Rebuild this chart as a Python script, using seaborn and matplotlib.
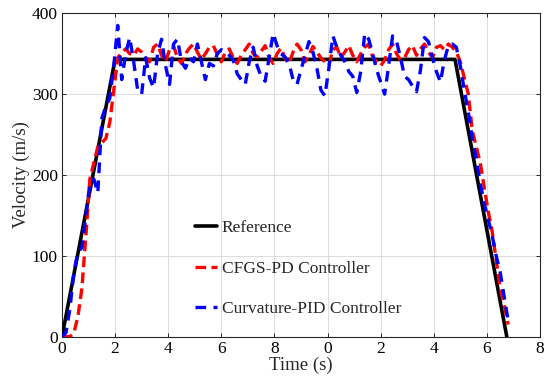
import numpy as np
import pandas as pd
import matplotlib
matplotlib.use("Agg")
import matplotlib.pyplot as plt
import seaborn as sns

# reference trajectory (corner points)
ref_t = [0.0, 2.0, 14.8, 16.75]
ref_v = [0.0, 343.0, 343.0, 0.0]

# sampled controller responses, step 0.15 on the time axis
sim_t = np.round(np.arange(113) * 0.15, 2)

cfgs_v = [0, 0, 0, 5, 25, 60, 125, 195, 215, 235, 240, 245, 265, 305, 345,
          352, 356, 350, 348, 356, 352, 345, 340, 358, 362, 348, 340, 355, 360,
          345, 338, 350, 357, 362, 352, 343, 350, 358, 360, 349, 340, 352, 356,
          345, 338, 348, 355, 362, 350, 346, 353, 360, 345, 338, 350, 357, 344,
          338, 352, 362, 355, 340, 348, 359, 352, 345, 340, 336, 355, 358, 345,
          352, 360, 348, 340, 350, 358, 362, 346, 340, 335, 342, 355, 362, 350,
          342, 345, 355, 360, 348, 356, 362, 352, 345, 358, 360, 355, 362, 358,
          352, 340, 320, 300, 255, 235, 215, 185, 155, 130, 95, 60, 40, 15]

pid_v = [0, 5, 35, 80, 105, 110, 150, 190, 195, 178, 270, 285, 295, 335, 385,
         318, 350, 370, 340, 305, 300, 345, 320, 308, 350, 368, 335, 312, 362,
         368, 340, 332, 345, 340, 362, 340, 318, 338, 335, 350, 355, 352, 348,
         342, 325, 318, 312, 340, 358, 335, 322, 316, 345, 375, 360, 350, 346,
         338, 318, 312, 330, 348, 365, 352, 332, 305, 298, 332, 372, 358, 348,
         340, 328, 322, 302, 328, 375, 368, 350, 330, 315, 300, 335, 372, 365,
         345, 322, 318, 310, 303, 330, 370, 365, 345, 328, 315, 342, 360, 362,
         358, 335, 305, 278, 245, 220, 190, 165, 145, 125, 100, 80, 50, 20]

x_ticks = [0, 2, 4, 6, 8, 10, 12, 14, 16, 18]
x_labels = ["0", "2", "4", "6", "8", "0", "2", "4", "6", "8"]
y_ticks = [0, 100, 200, 300, 400]

sns.set_theme(style="white")
plt.rcParams['font.family'] = ['Liberation Serif', 'DejaVu Serif']

fig = plt.figure(figsize=(5.5, 3.89), dpi=100)
ax = fig.add_axes([0.1127, 0.1344, 0.8691, 0.8314])

ref_df = pd.DataFrame({'t': ref_t, 'v': ref_v})
sim_df = pd.DataFrame({'t': sim_t, 'cfgs': cfgs_v, 'pid': pid_v})

sns.lineplot(data=ref_df, x='t', y='v', ax=ax, color='black', lw=2.6,
             label='Reference', zorder=3)
sns.lineplot(data=sim_df, x='t', y='cfgs', ax=ax, color='#ff0000', lw=2.4,
             dashes=False, label='CFGS-PD Controller', zorder=4)
sns.lineplot(data=sim_df, x='t', y='pid', ax=ax, color='#0000ff', lw=2.4,
             dashes=False, label='Curvature-PID Controller', zorder=5)
ax.lines[1].set_dashes((3.2, 1.6))
ax.lines[2].set_dashes((3.2, 2.2))

ax.set_xlim(0, 18)
ax.set_ylim(0, 400)
ax.set_xticks(x_ticks)
ax.set_xticklabels(x_labels)
ax.set_yticks(y_ticks)
ax.grid(True, color='#dcdcdc', lw=0.7)
ax.tick_params(direction='in', length=3, width=0.7, colors='#262626',
               labelsize=12.5, top=True, right=True, bottom=True, left=True,
               labelcolor='black', pad=3)
for s in ax.spines.values():
    s.set_color('#262626')
    s.set_linewidth(0.8)

ax.set_xlabel('Time (s)', fontsize=13.5, labelpad=0)
ax.set_ylabel('Velocity (m/s)', fontsize=13.5, labelpad=1)

ax.legend(loc='upper left', bbox_to_anchor=(0.278, 0.36), frameon=False,
          fontsize=12.5, labelspacing=1.4, handlelength=1.25,
          handletextpad=0.3, borderpad=0, borderaxespad=0)

fig.savefig('out.png', dpi=100)
